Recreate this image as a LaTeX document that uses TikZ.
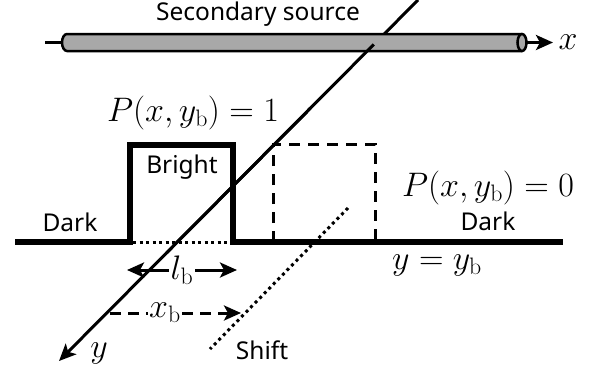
\RequirePackage{fix-cm}
\documentclass[tikz,border=0pt]{standalone}
\usepackage{fontspec}
\newfontfamily\lab{Noto Sans}
\usetikzlibrary{arrows.meta,calc}
\begin{document}
\begin{tikzpicture}[x=1pt,y=-1pt,
  txt/.style={font=\lab\fontsize{24.5}{28}\selectfont, inner sep=0pt},
  mth/.style={font=\fontsize{34}{40}\selectfont, inner sep=0pt},
  tip/.style={-{Stealth[length=17pt,width=15pt,inset=4pt]}},
  ground/.style={line width=6pt},
  dashbox/.style={line width=3pt, dash pattern=on 11pt off 8pt},
  dots/.style={line width=3pt, dash pattern=on 3pt off 3.5pt},
]
\useasboundingbox (0,0) rectangle (592,376);
% axes coordinates
\coordinate (ytop) at (418,0);
\coordinate (yend) at (59,361);
\coordinate (cl) at (45,42.5);
\coordinate (cr) at (526,42.5);
\coordinate (xtip) at (553,42.5);
% y axis (partly hidden by cylinder)
\draw[line width=3pt] (ytop) -- ($(ytop)!0.12!(yend)$);
% secondary source cylinder
\draw[line width=3pt] (cl) -- (62,42.5);
\draw[line width=2.5pt, fill=black!34] (522,34) -- (67,34) arc[start angle=90,end angle=270,x radius=5,y radius=-8.5] -- (522,51);
\draw[line width=2.5pt, fill=black!34] (522,42.5) ellipse[x radius=4.5, y radius=8.5];
\draw[line width=3pt, tip] (cr) -- (xtip);
\node[mth] (xl) at (568,42) {$x$};
\draw[line width=3pt, tip] ($(ytop)!0.123!(yend)$) -- (yend);
\node[mth] (yl) at (99,353) {$y$};
\node[txt] (ss) at (258,14) {Secondary source};
% ground and bright region
\coordinate (g0) at (15,242);
\coordinate (b1) at (130,242);
\coordinate (b2) at (130,145);
\coordinate (b3) at (233,145);
\coordinate (b4) at (233,242);
\coordinate (g1) at (563,242);
\draw[ground, line cap=butt, line join=miter] (g0) -- (b1) -- (b2) -- (b3) -- (b4) -- (g1);
\draw[dots] (b1) ++(3,0) -- ($(b4)+(-3,0)$);
% shifted dashed box
\coordinate (d1) at (273,242);
\coordinate (d2) at (273,144);
\coordinate (d3) at (375,144);
\coordinate (d4) at (375,242);
\draw[dashbox] (d1) -- (d2) -- (d3) -- (d4);
% redraw y axis over boxes
\draw[line width=3pt] ($(ytop)!0.3!(yend)$) -- ($(ytop)!0.7!(yend)$);
% shift dotted line
\coordinate (s1) at (348,208);
\coordinate (s2) at (210,349);
\draw[dots] (s1) -- (s2);
% labels
\node[mth] (p1) at (193,113) {$P(x,y_{\mathrm{b}})=1$};
\node[mth] (p0) at (488,188) {$P(x,y_{\mathrm{b}})=0$};
\node[txt] (br) at (182,167) {Bright};
\node[txt] (dk1) at (70,222) {Dark};
\node[txt] (dk2) at (488,221) {Dark};
\node[mth] (yb) at (437,265) {$y=y_{\mathrm{b}}$};
\node[txt] (sh) at (262,350) {Shift};
% l_b arrow
\node[mth, fill=white, inner sep=2pt] (lb) at (182,270) {$l_{\mathrm{b}}$};
\coordinate (la) at (127,270);
\coordinate (lc) at (237,270);
\draw[line width=3pt, tip] (lb.west) -- (la);
\draw[line width=3pt, tip] (lb.east) -- (lc);
% x_b arrow
\coordinate (xa) at (110,313);
\coordinate (xc) at (241,313);
\draw[line width=3pt, dash pattern=on 11pt off 7pt, tip] (xa) -- (xc);
\node[mth, fill=white, inner sep=1pt] (xb) at (165,313) {$x_{\mathrm{b}}$};
\end{tikzpicture}
\end{document}
